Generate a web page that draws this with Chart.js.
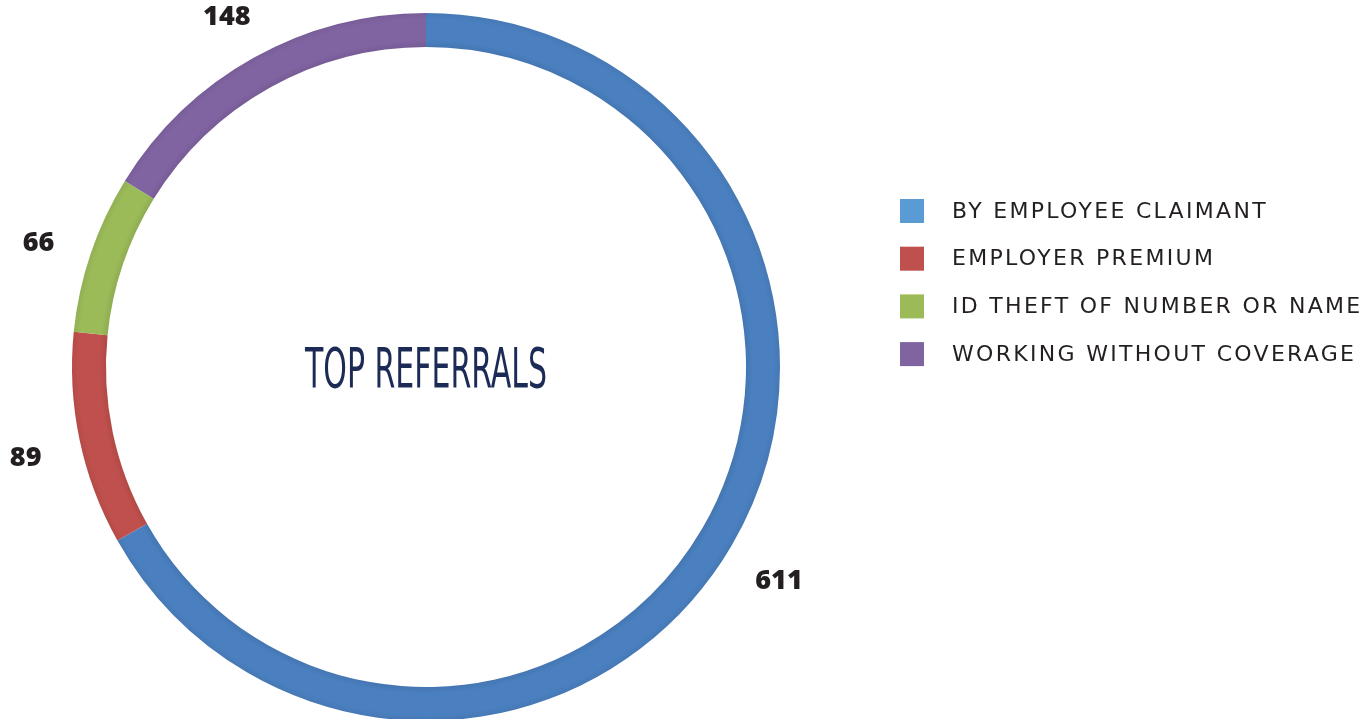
<!DOCTYPE html>
<html>
<head>
<meta charset="utf-8">
<script src="https://cdn.jsdelivr.net/npm/chart.js@4"></script>
<style>
  html, body { margin: 0; padding: 0; background: #fff; overflow: hidden; }
  #wrap { position: absolute; left: 0; top: 0; width: 1371px; height: 734px; }
</style>
</head>
<body>
<div id="wrap"><canvas id="chartRing"></canvas></div>
<script>
// Data
const categories = ['BY EMPLOYEE CLAIMANT', 'EMPLOYER PREMIUM', 'ID THEFT OF NUMBER OR NAME', 'WORKING WITHOUT COVERAGE'];
const values = [611, 89, 66, 148];
const ringColors = ['#4a80c0', '#c0504d', '#9bbb59', '#8064a2'];
const legendColors = ['#5b9bd5', '#c0504d', '#9bbb59', '#8064a2'];
const centerTitle = 'TOP REFERRALS';

const OUTER = 354;
const INNER = 320;

// darken a hex colour by a factor
function shade(hex, f) {
  const n = parseInt(hex.slice(1), 16);
  const r = Math.round(((n >> 16) & 255) * f);
  const g = Math.round(((n >> 8) & 255) * f);
  const b = Math.round((n & 255) * f);
  return `rgb(${r},${g},${b})`;
}

// slight bevel across the ring width
function ringFill(context) {
  const chart = context.chart;
  const base = ringColors[context.dataIndex];
  const area = chart.chartArea;
  if (!area) return base;
  const cx = (area.left + area.right) / 2;
  const cy = (area.top + area.bottom) / 2;
  const g = chart.ctx.createRadialGradient(cx, cy, INNER, cx, cy, OUTER);
  g.addColorStop(0, shade(base, 0.92));
  g.addColorStop(0.2, base);
  g.addColorStop(0.8, base);
  g.addColorStop(1, shade(base, 0.94));
  return g;
}

// value labels outside the ring + centre title + legend
const decorPlugin = {
  id: 'decor',
  afterDraw(chart) {
    const ctx = chart.ctx;
    const meta = chart.getDatasetMeta(0);
    ctx.save();

    // values
    ctx.font = '800 27px "Open Sans", sans-serif';
    ctx.fillStyle = '#231f20';
    ctx.textAlign = 'center';
    ctx.textBaseline = 'middle';
    meta.data.forEach((arc, i) => {
      const p = arc.getProps(['x', 'y', 'startAngle', 'endAngle', 'outerRadius'], true);
      const mid = (p.startAngle + p.endAngle) / 2;
      const r = p.outerRadius + 55;
      ctx.fillText(String(values[i]), p.x + Math.cos(mid) * r, p.y + Math.sin(mid) * r + 8);
    });

    // centre title, condensed
    const area = chart.chartArea;
    const cx = (area.left + area.right) / 2;
    const cy = (area.top + area.bottom) / 2;
    ctx.font = '300 56px "Liberation Sans Narrow", "DejaVu Sans Condensed", sans-serif';
    ctx.fillStyle = '#1c2b55';
    const w = ctx.measureText(centerTitle).width;
    const sx = 242 / w;
    ctx.translate(cx, cy + 5);
    ctx.scale(sx, 1);
    ctx.fillText(centerTitle, 0, 0);
    ctx.setTransform(chart.currentDevicePixelRatio, 0, 0, chart.currentDevicePixelRatio, 0, 0);

    // legend
    ctx.textAlign = 'left';
    ctx.font = '22px "DejaVu Sans", sans-serif';
    if ('letterSpacing' in ctx) ctx.letterSpacing = '2.3px';
    categories.forEach((label, i) => {
      const y = 211 + i * 47.7;
      ctx.fillStyle = legendColors[i];
      ctx.fillRect(900, y - 12, 24, 24);
      ctx.fillStyle = '#231f20';
      ctx.fillText(label, 952, y + 1);
    });
    ctx.restore();
  },
};

new Chart(document.getElementById('chartRing'), {
  type: 'doughnut',
  data: {
    labels: categories,
    datasets: [{
      data: values,
      backgroundColor: ringFill,
      borderWidth: 0,
      hoverOffset: 0,
      offset: 0,
    }],
  },
  options: {
    responsive: true,
    maintainAspectRatio: false,
    animation: false,
    radius: OUTER,
    cutout: ((INNER / OUTER) * 100).toFixed(2) + '%',
    layout: { padding: { left: 0, right: 519, top: 0, bottom: 0 } },
    events: [],
    plugins: {
      legend: { display: false },
      tooltip: { enabled: false },
    },
  },
  plugins: [decorPlugin],
});
</script>
</body>
</html>
